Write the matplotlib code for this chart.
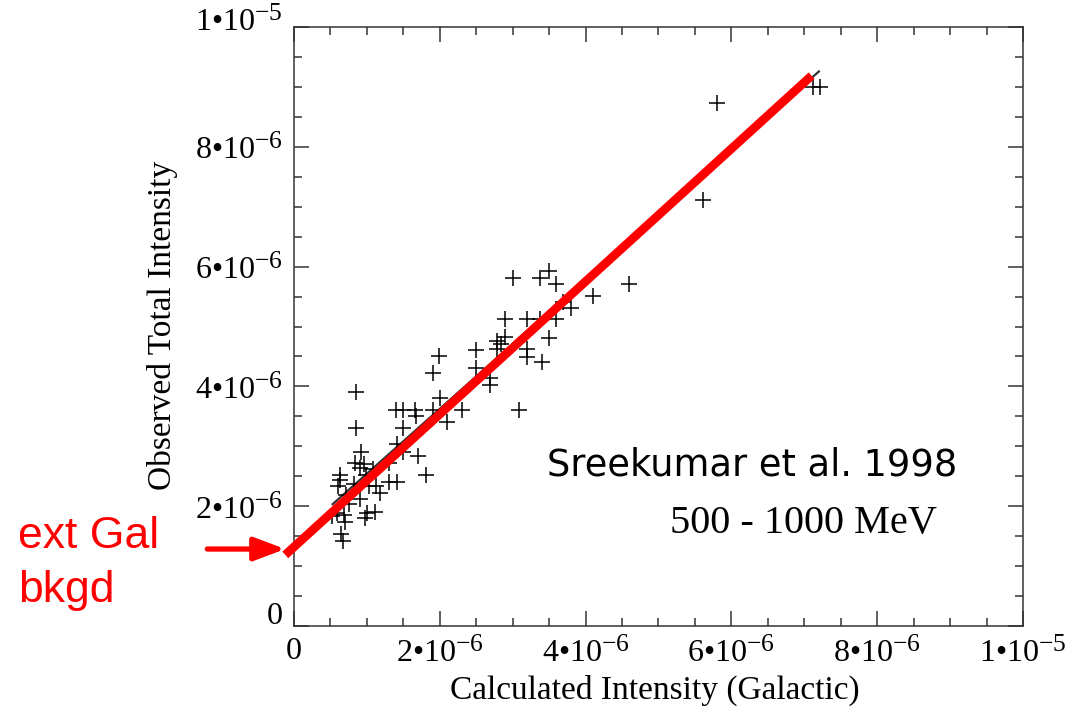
import matplotlib
matplotlib.use("Agg")
import matplotlib.pyplot as plt
from matplotlib.transforms import ScaledTranslation
import numpy as np

try:
    import matplotlib._mathtext as _mt
    _mt.SHRINK_FACTOR = 0.8   # slightly larger exponents
except Exception:
    pass

plt.rcParams["mathtext.fontset"] = "custom"
plt.rcParams["mathtext.rm"] = "Liberation Serif"
plt.rcParams["mathtext.it"] = "Liberation Serif:italic"

UNIT = 1e-6

# Calculated (Galactic) vs observed total intensity, in units of 1e-6
calc_intensity = [
    2.50, 1.99, 2.50, 1.90, 2.69, 2.69, 0.85, 2.00, 1.40, 1.50, 1.66, 1.90,
    1.68, 2.31, 2.10, 0.85, 1.50, 1.41, 0.92, 1.50, 0.84, 0.96, 1.70, 1.31,
    0.90, 1.08, 0.99, 0.63, 1.81, 0.63, 1.31, 1.41, 0.60, 0.82, 1.03, 1.13,
    1.18, 0.71, 0.90, 0.76, 0.59, 1.00, 1.11, 0.68, 0.52, 0.97, 0.70, 0.65,
    0.67,
    3.00, 3.38, 3.50, 3.59, 4.60, 4.10, 3.69, 3.80, 2.89, 3.20, 3.38, 3.59,
    2.89, 2.79, 2.84, 3.50, 2.79, 3.20, 3.20, 3.40, 3.09,
    5.80, 7.12, 7.22, 5.61,
]
obs_intensity = [
    4.61, 4.51, 4.30, 4.22, 4.14, 4.02, 3.91, 3.80, 3.61, 3.61, 3.61, 3.61,
    3.51, 3.61, 3.41, 3.30, 3.30, 3.04, 2.91, 2.91, 2.72, 2.71, 2.83, 2.72,
    2.63, 2.62, 2.52, 2.52, 2.52, 2.44, 2.41, 2.41, 2.33, 2.37, 2.33, 2.34,
    2.22, 2.19, 2.12, 2.04, 1.88, 1.88, 1.90, 1.85, 1.83, 1.80, 1.74, 1.54,
    1.42,
    5.81, 5.81, 5.92, 5.71, 5.71, 5.51, 5.41, 5.31, 5.12, 5.12, 5.12, 5.12,
    4.82, 4.76, 4.70, 4.81, 4.62, 4.62, 4.49, 4.41, 3.61,
    8.73, 9.00, 9.00, 7.12,
]

# Linear fits: observed = offset + slope * calculated
fit_offset, fit_slope = 1.32, 1.108          # highlighted fit (red)
fit_range = [-0.12, 7.10]
orig_offset, orig_slope = 1.46, 1.083        # original regression line
orig_range = [0.53, 7.20]
ext_gal_bkgd = 1.285                          # arrow level

x_ticks = [0, 2e-6, 4e-6, 6e-6, 8e-6, 1e-5]
x_tick_labels = ["0", "2•10$^{-6}$", "4•10$^{-6}$", "6•10$^{-6}$",
                 "8•10$^{-6}$", "1•10$^{-5}$"]
y_ticks = x_ticks
y_tick_labels = x_tick_labels

fig = plt.figure(figsize=(10.74, 7.10), dpi=100)
ax = fig.add_axes([294 / 1074, 1 - 626 / 710, 729 / 1074, 599 / 710])

x = np.array(calc_intensity) * UNIT
y = np.array(obs_intensity) * UNIT
ax.plot(x, y, linestyle="none", marker="+", color="black",
        markersize=11, markeredgewidth=1.1, zorder=3)

xo = np.array(orig_range) * UNIT
ax.plot(xo, orig_offset * UNIT + orig_slope * xo, color="#333333",
        lw=1.6, zorder=2, clip_on=False)

xf = np.array(fit_range) * UNIT
ax.plot(xf, fit_offset * UNIT + fit_slope * xf, color="#ff0000",
        lw=6.3, solid_capstyle="butt", zorder=4, clip_on=False)

ax.annotate("", xy=(fit_range[0] * UNIT, ext_gal_bkgd * UNIT),
            xytext=(-1.19 * UNIT, ext_gal_bkgd * UNIT),
            annotation_clip=False,
            arrowprops=dict(arrowstyle="-|>,head_length=0.85,head_width=0.32",
                            color="#ff0000", lw=3.8, shrinkA=0, shrinkB=0,
                            mutation_scale=22))

ax.set_xlim(0, 1e-5)
ax.set_ylim(0, 1e-5)

ax.set_xticks(x_ticks)
ax.set_xticklabels(x_tick_labels, fontfamily="Liberation Serif", fontsize=23)
ax.set_yticks(y_ticks)
ax.set_yticklabels(y_tick_labels, fontfamily="Liberation Serif", fontsize=23)
ax.set_xticks(np.arange(0, 1.0001e-5, 0.5e-6), minor=True)
ax.set_yticks(np.arange(0, 1.0001e-5, 0.5e-6), minor=True)
ax.tick_params(which="both", direction="in", top=True, right=True,
               color="#333333", width=1.1)
ax.tick_params(which="major", length=11)
ax.tick_params(which="minor", length=5.5)
ax.tick_params(axis="x", which="major", pad=8)
ax.tick_params(axis="y", which="major", pad=8)
for s in ax.spines.values():
    s.set_linewidth(1.1)
    s.set_color("#333333")

# lift the end labels of the y axis
ylabels = ax.get_yticklabels()
for lbl, dy in ((ylabels[0], 9), (ylabels[-1], 6)):
    lbl.set_transform(lbl.get_transform() +
                      ScaledTranslation(0, dy / 72, fig.dpi_scale_trans))

ax.set_xlabel("Calculated Intensity (Galactic)", fontfamily="Liberation Serif",
              fontsize=24)
ax.xaxis.set_label_coords((655 - 294) / 729, (626 - 675) / 599)
ax.set_ylabel("Observed Total Intensity", fontfamily="Liberation Serif",
              fontsize=24)
ax.yaxis.set_label_coords((178 - 294) / 729, (626 - 325) / 599)

ax.text(3.47 * UNIT, 2.52 * UNIT, "Sreekumar et al. 1998",
        fontfamily="DejaVu Sans", fontsize=26.5, ha="left", va="baseline")
ax.text(5.16 * UNIT, 1.553 * UNIT, "500 - 1000 MeV",
        fontfamily="Liberation Serif", fontsize=29, ha="left", va="baseline")

fig.text(18 / 1074, 1 - 548 / 710, "ext Gal", color="#ff0000",
         fontfamily="Liberation Sans", fontsize=32, ha="left", va="baseline")
fig.text(18 / 1074, 1 - 602 / 710, "bkgd", color="#ff0000",
         fontfamily="Liberation Sans", fontsize=32, ha="left", va="baseline")

fig.savefig("out.png", dpi=100, facecolor="white")
